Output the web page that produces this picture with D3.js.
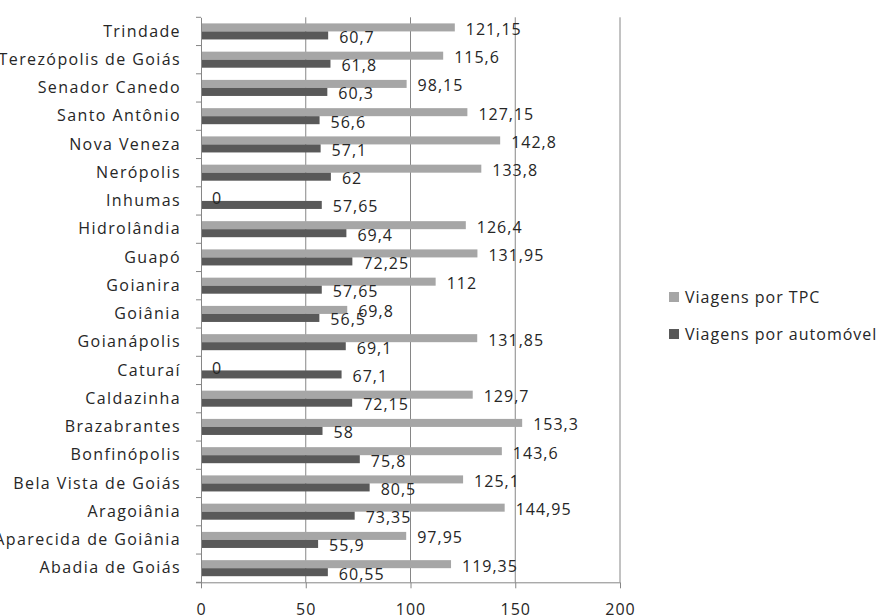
<!DOCTYPE html>
<html>
<head>
<meta charset="utf-8">
<script src="https://cdn.jsdelivr.net/npm/d3@7"></script>
<style>
  html, body { margin: 0; padding: 0; background: #fff; }
  svg { display: block; }
  text { font-family: "Open Sans", "Noto Sans", sans-serif; fill: #262626; letter-spacing: 1px; }
</style>
</head>
<body>
<svg id="chart" width="879" height="616"></svg>
<script>
// Municipalities, listed bottom to top as they appear on the axis
const categories = [
  "Abadia de Goiás", "Aparecida de Goiânia", "Aragoiânia", "Bela Vista de Goiás",
  "Bonfinópolis", "Brazabrantes", "Caldazinha", "Caturaí", "Goianápolis", "Goiânia",
  "Goianira", "Guapó", "Hidrolândia", "Inhumas", "Nerópolis", "Nova Veneza",
  "Santo Antônio", "Senador Canedo", "Terezópolis de Goiás", "Trindade"
];
const viagensTPC = [
  119.35, 97.95, 144.95, 125.1, 143.6, 153.3, 129.7, 0, 131.85, 69.8,
  112, 131.95, 126.4, 0, 133.8, 142.8, 127.15, 98.15, 115.6, 121.15
];
const viagensAutomovel = [
  60.55, 55.9, 73.35, 80.5, 75.8, 58, 72.15, 67.1, 69.1, 56.5,
  57.65, 72.25, 69.4, 57.65, 62, 57.1, 56.6, 60.3, 61.8, 60.7
];
const seriesNames = ["Viagens por TPC", "Viagens por automóvel"];
const xTicks = [0, 50, 100, 150, 200];

const colors = { "Viagens por TPC": "#a6a6a6", "Viagens por automóvel": "#595959" };

const svg = d3.select("#chart");
const plot = { left: 201, right: 620, top: 17.3, bottom: 582.3 };

const x = d3.scaleLinear().domain([0, 200]).range([plot.left, plot.right]);
const y0 = d3.scaleBand().domain(categories).range([plot.bottom, plot.top]);
const y1 = d3.scaleBand().domain(seriesNames).range([0, y0.bandwidth()])
  .paddingInner(0).paddingOuter(0.76);

const fmt = d3.formatLocale({ decimal: ",", thousands: ".", grouping: [3], currency: ["", ""] }).format("~f");

const rows = categories.map((c, i) => ({
  cat: c,
  vals: [
    { s: seriesNames[0], v: viagensTPC[i] },
    { s: seriesNames[1], v: viagensAutomovel[i] }
  ]
}));

// vertical gridlines
svg.append("g").selectAll("line")
  .data(xTicks.filter(t => t > 0))
  .join("line")
  .attr("x1", d => x(d)).attr("x2", d => x(d))
  .attr("y1", plot.top).attr("y2", plot.bottom)
  .attr("stroke", "#868686").attr("stroke-width", 1);

// bars
const groups = svg.append("g").selectAll("g")
  .data(rows)
  .join("g")
  .attr("transform", d => `translate(0,${y0(d.cat)})`);

groups.selectAll("rect")
  .data(d => d.vals)
  .join("rect")
  .attr("x", x(0))
  .attr("y", d => y1(d.s))
  .attr("width", d => x(d.v) - x(0))
  .attr("height", y1.bandwidth())
  .attr("fill", d => colors[d.s]);

// value labels
groups.selectAll("text")
  .data(d => d.vals)
  .join("text")
  .attr("x", d => x(d.v) + 11)
  .attr("y", d => y1(d.s) + y1.bandwidth() / 2 + 1.5)
  .attr("dominant-baseline", "central")
  .attr("font-size", 16)
  .text(d => fmt(d.v));

// left category axis
const yAxis = d3.axisLeft(y0).tickSize(0).tickPadding(20);
const gy = svg.append("g").attr("transform", `translate(${plot.left},0)`).call(yAxis);
gy.select(".domain").attr("stroke", "#868686");
gy.selectAll("text").attr("font-size", 16).attr("fill", "#262626")
  .style("font-family", '"Open Sans", sans-serif')
  .style("letter-spacing", "1.4px");
// boundary tick marks between categories
const bounds = categories.map(c => y0(c)).concat([y0(categories[0]) + y0.bandwidth()]);
svg.append("g").selectAll("line")
  .data(bounds)
  .join("line")
  .attr("x1", plot.left - 5).attr("x2", plot.left)
  .attr("y1", d => d).attr("y2", d => d)
  .attr("stroke", "#868686");

// bottom value axis
const xAxis = d3.axisBottom(x).tickValues(xTicks).tickSize(6).tickPadding(15).tickFormat(d => d);
const gx = svg.append("g").attr("transform", `translate(0,${plot.bottom})`).call(xAxis);
gx.select(".domain").attr("d", `M${plot.left - 5},0.5H${plot.right}`).attr("stroke", "#868686");
gx.selectAll(".tick line").attr("stroke", "#868686");
gx.selectAll("text").attr("font-size", 16).attr("fill", "#262626")
  .style("font-family", '"Open Sans", sans-serif');

// legend
const legend = svg.append("g").attr("transform", "translate(669,292)");
const li = legend.selectAll("g")
  .data(seriesNames)
  .join("g")
  .attr("transform", (d, i) => `translate(0,${i * 37})`);
li.append("rect").attr("width", 10).attr("height", 10).attr("fill", d => colors[d]);
li.append("text").attr("x", 16).attr("y", 5).attr("dominant-baseline", "central")
  .attr("font-size", 16).text(d => d);
</script>
</body>
</html>
